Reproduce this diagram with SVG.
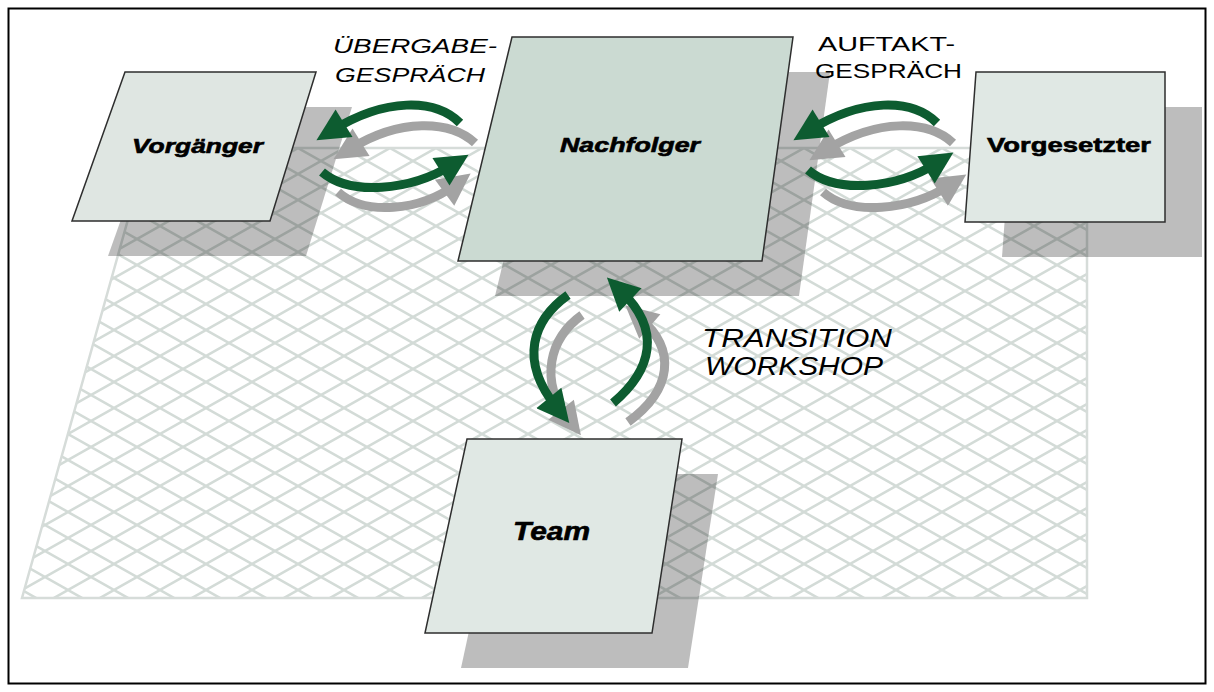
<svg xmlns="http://www.w3.org/2000/svg" width="1214" height="692" viewBox="0 0 1214 692">
<style>
.node{stroke:#2e2e2e;stroke-width:1.5}
.shadow{fill:#000;fill-opacity:0.26}
.lbl{font-family:"Liberation Sans",Arial,sans-serif;font-weight:bold;fill:#000;stroke:#000;stroke-width:0.6}
.cap{font-family:"Liberation Sans",Arial,sans-serif;fill:#000}
.g{fill:none;stroke:#0d5c30;stroke-width:9;marker-end:url(#hg)}
.s{fill:none;stroke:#a3a3a3;stroke-width:9;marker-end:url(#hs)}
</style>
<defs>
<pattern id="grid" patternUnits="userSpaceOnUse" x="22" y="148" width="46" height="26">
<path d="M-46,-26 L92,52 M-46,0 L46,52 M0,-26 L92,26 M-46,52 L92,-26 M-46,26 L46,-26 M0,52 L92,0" stroke="#d3dbd7" stroke-width="2.5" fill="none"/>
</pattern>
<marker id="hg" viewBox="0 0 10 10" refX="4" refY="5" markerWidth="3.8" markerHeight="3.6" markerUnits="strokeWidth" orient="auto">
<path d="M0,0 L10,5 L0,10 z" fill="#0d5c30"/>
</marker>
<marker id="hs" viewBox="0 0 10 10" refX="4" refY="5" markerWidth="3.8" markerHeight="3.6" markerUnits="strokeWidth" orient="auto">
<path d="M0,0 L10,5 L0,10 z" fill="#a3a3a3"/>
</marker>
</defs>
<rect x="0" y="0" width="1214" height="692" fill="#fff"/>
<rect x="8.5" y="8.5" width="1197" height="675" fill="none" stroke="#000" stroke-width="2"/>
<g id="plane">
<polygon points="148,148 1087,148 1087,598 22,598" fill="#fff"/>
<polygon points="148,148 1087,148 1087,598 22,598" fill="url(#grid)" stroke="#d6dcd9" stroke-width="2.5"/>
</g>
<g id="shadows">
<polygon class="shadow" points="161,107 352,107 306,256 108,256"/>
<polygon class="shadow" points="549,72 830,72 799,296 495,296"/>
<polygon class="shadow" points="1013,107 1202,107 1202,257 1002,257"/>
<polygon class="shadow" points="503,474 718,474 688,668 461,668"/>
</g>
<g id="vorgaenger">
<polygon class="node" fill="#dfe6e2" points="125,72 316,72 270,221 72,221"/>
<text class="lbl" x="132" y="153" font-size="20" font-style="italic" textLength="131" lengthAdjust="spacingAndGlyphs">Vorgänger</text>
</g>
<g id="nachfolger">
<polygon class="node" fill="#cbdad2" points="512,37 793,37 762,261 458,261"/>
<text class="lbl" x="560" y="152" font-size="20" font-style="italic" textLength="140" lengthAdjust="spacingAndGlyphs">Nachfolger</text>
</g>
<g id="vorgesetzter">
<polygon class="node" fill="#e0e8e4" points="976,72 1165,72 1165,222 965,222"/>
<text class="lbl" x="987" y="152" font-size="20" textLength="164" lengthAdjust="spacingAndGlyphs">Vorgesetzter</text>
</g>
<g id="team">
<polygon class="node" fill="#e0e8e4" points="467,439 682,439 652,633 425,633"/>
<text class="lbl" x="513" y="540" font-size="25" font-style="italic" textLength="77" lengthAdjust="spacingAndGlyphs">Team</text>
</g>
<g id="connectors">
<path class="s" d="M475,143 C450,120 400,118 350,149"/>
<path class="s" d="M338,192 C365,216 420,211 455,185"/>
<path class="g" d="M460,123 C435,98 385,98 333,130"/>
<path class="g" d="M322,172 C350,196 410,191 452,165"/>
<path class="s" d="M953,143 C928,120 878,118 826,150"/>
<path class="s" d="M823,192 C850,216 910,211 950,185"/>
<path class="g" d="M937,123 C912,98 862,98 810,130"/>
<path class="g" d="M808,170 C836,194 896,189 937,163"/>
<path class="s" d="M582,315 C550,338 538,380 569,420"/>
<path class="s" d="M628,422 C672,390 677,350 640,318"/>
<path class="g" d="M568,295 C533,320 518,360 557,408"/>
<path class="g" d="M613,403 C652,370 662,330 621,291"/>
</g>
<g id="labels">
<text class="cap" x="333" y="53" font-size="19.5" font-style="italic" textLength="164" lengthAdjust="spacingAndGlyphs">ÜBERGABE-</text>
<text class="cap" x="335" y="82" font-size="19.5" font-style="italic" textLength="150" lengthAdjust="spacingAndGlyphs">GESPRÄCH</text>
<text class="cap" x="818" y="51" font-size="19.5" textLength="137" lengthAdjust="spacingAndGlyphs">AUFTAKT-</text>
<text class="cap" x="815" y="78" font-size="19.5" textLength="147" lengthAdjust="spacingAndGlyphs">GESPRÄCH</text>
<text class="cap" x="702" y="347" font-size="25" font-style="italic" textLength="190" lengthAdjust="spacingAndGlyphs">TRANSITION</text>
<text class="cap" x="705" y="375" font-size="25" font-style="italic" textLength="178" lengthAdjust="spacingAndGlyphs">WORKSHOP</text>
</g>
</svg>
